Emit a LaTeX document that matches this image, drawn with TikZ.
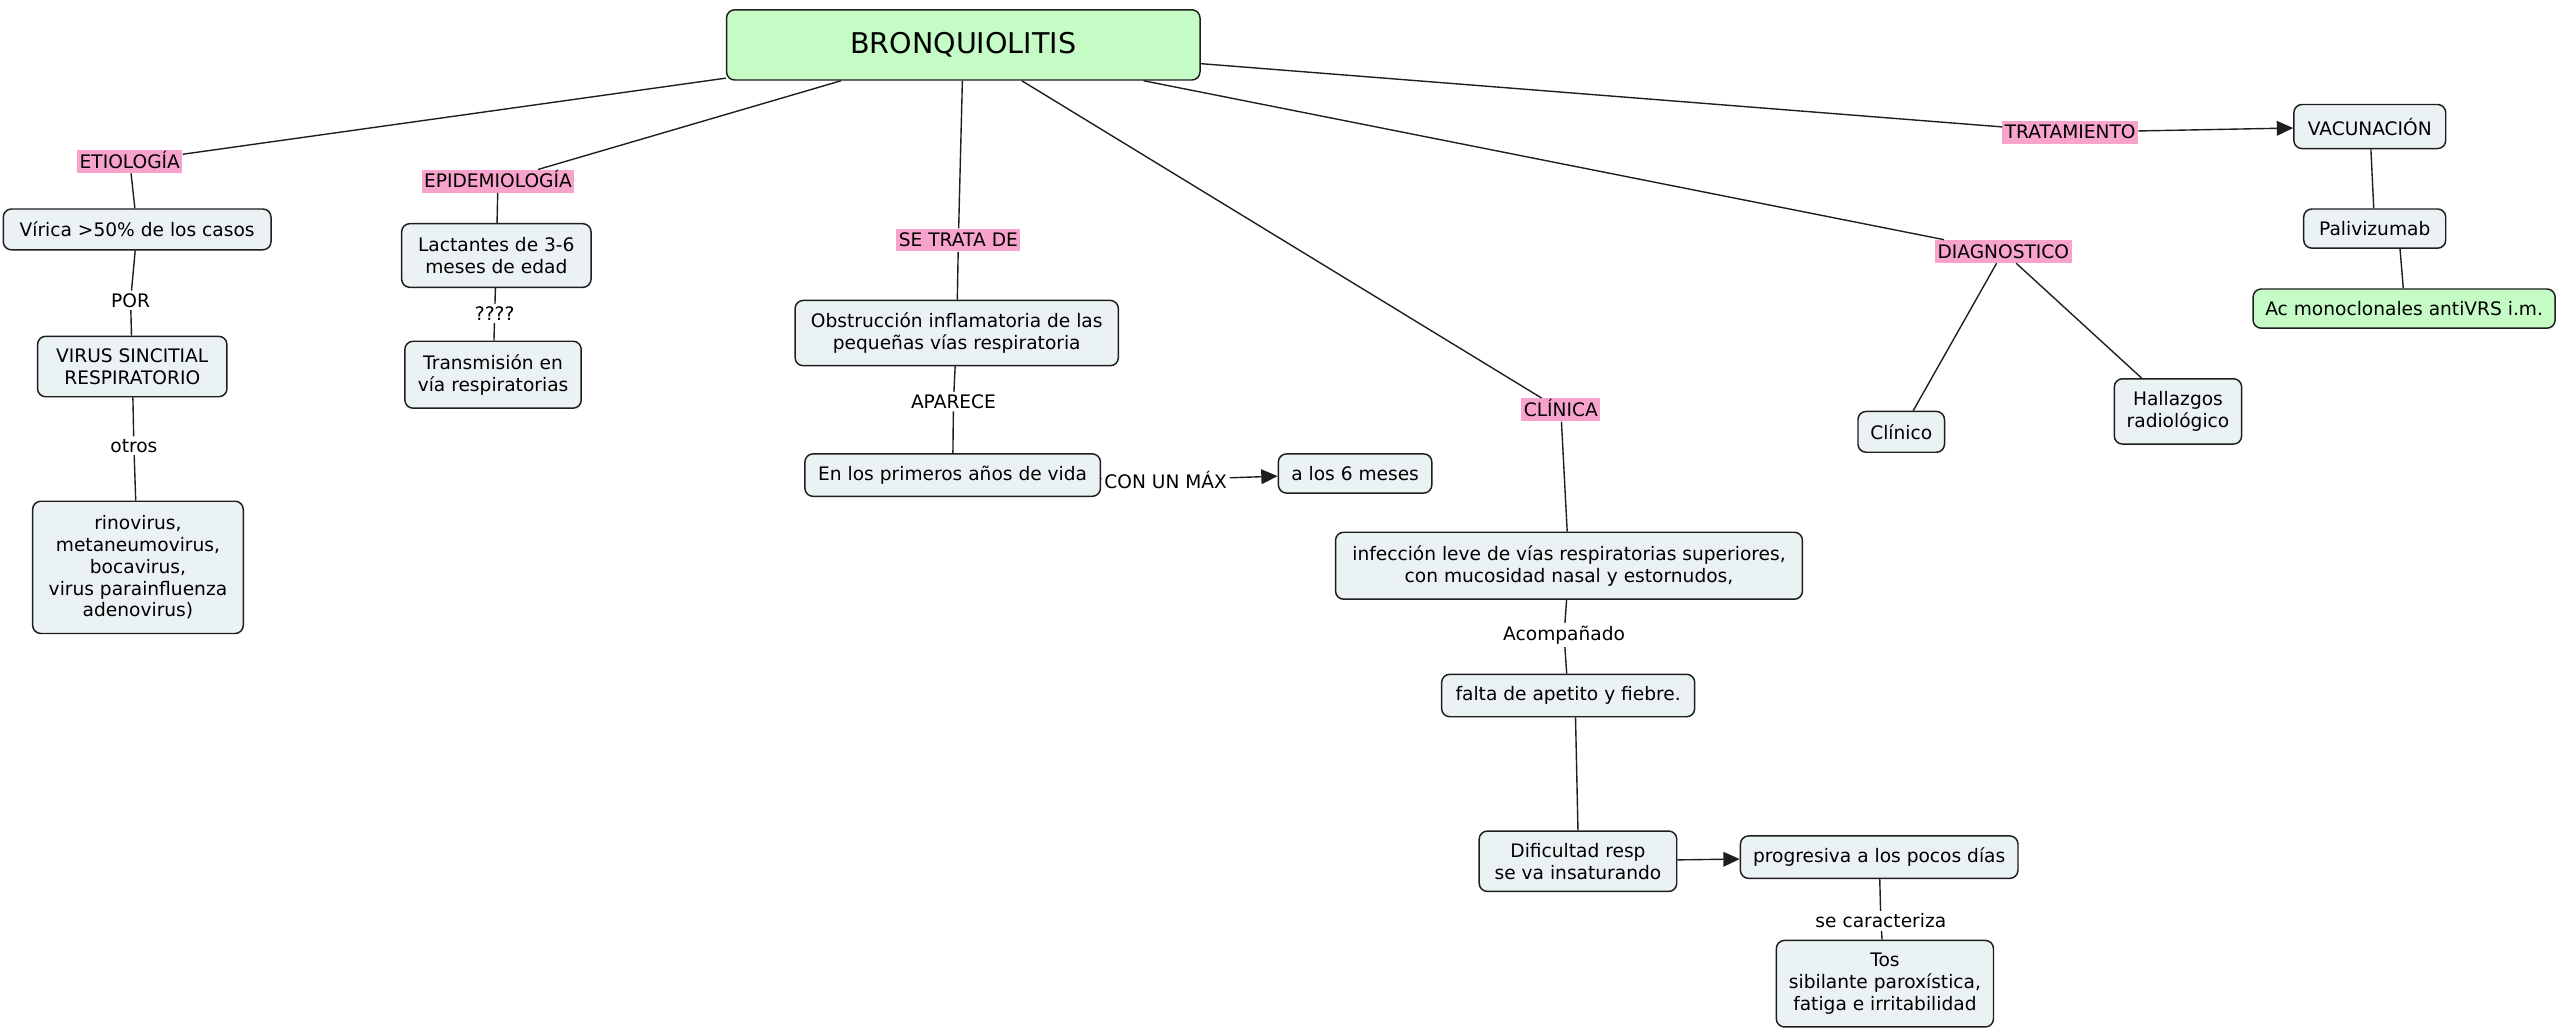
\documentclass[tikz,border=0pt]{standalone}
\usepackage{fontspec}
\setmainfont{DejaVu Sans}
\usetikzlibrary{arrows.meta}

\definecolor{conceptfill}{RGB}{235,242,244}
\definecolor{rootgreen}{RGB}{197,252,197}
\definecolor{phrasepink}{RGB}{247,163,204}
\definecolor{edgegray}{RGB}{30,30,30}

\begin{document}
\begin{tikzpicture}[x=1pt,y=-1pt,
  every node/.style={font=\fontsize{11.4}{13.4}\selectfont, text=black},
  concept/.style={draw=edgegray, line width=0.9pt, rounded corners=5pt,
    fill=conceptfill, align=center, inner sep=0pt},
  keyconcept/.style={concept, fill=rootgreen},
  tag/.style={fill=phrasepink, inner xsep=1.5pt, inner ysep=0pt, minimum height=14pt},
  phrase/.style={inner sep=1.5pt},
  link/.style={draw=edgegray, line width=0.85pt},
  arrowlink/.style={link, -{Triangle[length=10pt,width=9pt]}},
]
\fill[white] (0,0) rectangle (1568,630);
\useasboundingbox (0,0) rectangle (1568,630);

% central concept
\node[keyconcept, minimum width=290pt, minimum height=43pt,
      font=\fontsize{17.5}{21}\selectfont] (root) at (590,27.5) {BRONQUIOLITIS};

% first-level linking phrases
\node[tag] (etio)    at (79.5,99)  {\vphantom{Ág}ETIOLOGÍA};
\node[tag] (epid)    at (305,111)  {\vphantom{Ág}EPIDEMIOLOGÍA};
\node[tag] (setrata) at (587,147)  {\vphantom{Ág}SE TRATA DE\hspace{4pt}};
\node[tag] (clinica) at (956,251)  {\vphantom{Ág}CLÍNICA};
\node[tag] (diag)    at (1227,154) {\vphantom{Ág}DIAGNOSTICO};
\node[tag] (trat)    at (1268,81)  {\vphantom{Ág}TRATAMIENTO};

% etiology branch
\node[concept, minimum width=164pt, minimum height=25pt] (vir) at (84,140.5) {Vírica >50\% de los casos};
\node[phrase] (por) at (80,184) {POR};
\node[concept, minimum width=116pt, minimum height=37pt] (vrs) at (81,224.5) {VIRUS SINCITIAL\\RESPIRATORIO};
\node[phrase] (otros) at (82,273) {otros};
\node[concept, minimum width=129pt, minimum height=81pt] (rino) at (84.5,347.5)
  {rinovirus,\\metaneumovirus,\\bocavirus,\\virus parainfluenza\\ adenovirus)};

% epidemiology branch
\node[concept, minimum width=116pt, minimum height=39pt] (lact) at (304,156.5) {Lactantes de 3-6\\meses de edad};
\node[phrase] (qq) at (303,192) {????};
\node[concept, minimum width=108pt, minimum height=41pt] (trans) at (302,229.5) {Transmisión en\\vía respiratorias};

% definition branch
\node[concept, minimum width=198pt, minimum height=40pt] (obst) at (586,204) {Obstrucción inflamatoria de las\\pequeñas vías respiratoria};
\node[phrase] (aparece) at (584,246) {APARECE};
\node[concept, minimum width=181pt, minimum height=26pt] (prim) at (583.5,291) {En los primeros años de vida};
\node[phrase] (conmax) at (714,294) {CON UN MÁX};
\node[concept, minimum width=94pt, minimum height=24pt] (seis) at (830,290) {a los 6 meses};

% clinical branch
\node[concept, minimum width=286pt, minimum height=41pt] (inf) at (961,346.5) {infección leve de vías respiratorias superiores,\\con mucosidad nasal y estornudos,};
\node[phrase] (acomp) at (958,389) {Acompañado};
\node[concept, minimum width=155pt, minimum height=26pt] (falta) at (960.5,426) {falta de apetito y fiebre.};
\node[concept, minimum width=121pt, minimum height=37pt] (dific) at (966.5,527.5) {Dificultad resp\\se va insaturando};
\node[concept, minimum width=170pt, minimum height=26pt] (prog) at (1151,525) {progresiva a los pocos días};
\node[phrase] (secar) at (1152,564) {se caracteriza};
\node[concept, minimum width=133pt, minimum height=53pt] (tos) at (1154.5,602.5) {Tos\\sibilante paroxística,\\ fatiga e irritabilidad};

% diagnosis branch
\node[concept, minimum width=53pt, minimum height=25pt] (clin) at (1164.5,264.5) {Clínico};
\node[concept, minimum width=78pt, minimum height=40pt] (hall) at (1334,252) {Hallazgos\\radiológico};

% treatment branch
\node[concept, minimum width=93pt, minimum height=27pt] (vac) at (1451.5,77.5) {VACUNACIÓN};
\node[concept, minimum width=87pt, minimum height=24pt] (pali) at (1454.5,140) {Palivizumab};
\node[keyconcept, minimum width=185pt, minimum height=24pt] (ac) at (1472.5,189) {Ac monoclonales antiVRS i.m.};

% connectors
\draw[link] (root) -- (etio);
\draw[link] (etio) -- (vir);
\draw[link] (vir) -- (por);
\draw[link] (por) -- (vrs);
\draw[link] (vrs) -- (otros);
\draw[link] (otros) -- (rino);

\draw[link] (root) -- (epid);
\draw[link] (epid) -- (lact);
\draw[link] (lact) -- (qq);
\draw[link] (qq) -- (trans);

\draw[link] (root) -- (setrata);
\draw[link] (setrata) -- (obst);
\draw[link] (obst) -- (aparece);
\draw[link] (aparece) -- (prim);
\draw[link] (prim) -- (conmax);
\draw[arrowlink] (conmax) -- (seis);

\draw[link] (root) -- (clinica);
\draw[link] (clinica) -- (inf);
\draw[link] (inf) -- (acomp);
\draw[link] (acomp) -- (falta);
\draw[link] ([xshift=4.5pt]falta.south) -- (dific.north);
\draw[arrowlink] (dific) -- (prog);
\draw[link] (prog) -- (secar);
\draw[link] (secar) -- (tos);

\draw[link] (root) -- (diag);
\draw[link] (diag) -- (clin);
\draw[link] (diag) -- (hall);

\draw[link] (root) -- (trat);
\draw[arrowlink] (trat) -- (vac);
\draw[link] (vac) -- (pali);
\draw[link] ([xshift=15.5pt]pali.south) -- ([xshift=-0.5pt]ac.north);
\end{tikzpicture}
\end{document}
